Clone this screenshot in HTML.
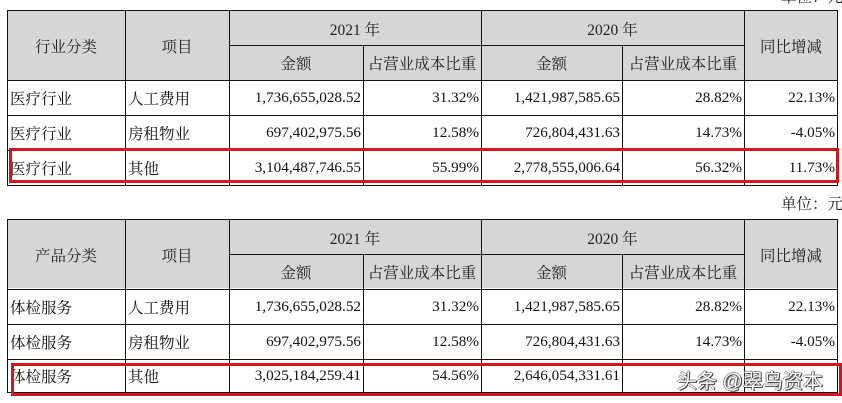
<!DOCTYPE html>
<html><head><meta charset="utf-8">
<style>
html,body{margin:0;padding:0;background:#fff;}
body{width:842px;height:403px;position:relative;overflow:hidden;font-family:"Liberation Serif","Noto Serif CJK SC",serif;color:#111;}
.t{position:absolute;left:0;width:842px;height:190px;}
.bg{position:absolute;background:#d6d6d6;}
.h{position:absolute;height:1px;background:#111;}
.v{position:absolute;width:1px;background:#111;}
.c{position:absolute;display:flex;align-items:center;white-space:nowrap;font-size:15.5px;box-sizing:border-box;}
.l{justify-content:flex-start;padding-left:3px;}
.r{justify-content:flex-end;padding-right:2px;font-size:15.2px;}
.m{justify-content:center;color:#222;}
.red{position:absolute;border:3px solid #d4141c;box-sizing:border-box;}
.unit{position:absolute;font-size:15.5px;white-space:nowrap;color:#222;}
.wm{position:absolute;left:677px;top:365px;font-family:"Liberation Sans","Noto Sans CJK SC",sans-serif;font-size:20px;color:#fff;letter-spacing:0px;text-shadow:1px 1px 0 #444,-1px 0 0 #888,0 -1px 0 #999,1px 0 0 #333;white-space:nowrap;}
</style></head><body>

<div class="unit" style="left:781px;top:-15px;">单位：元</div>

<!-- TABLE 1 -->
<div class="t" style="top:0;">
  <div class="bg" style="left:7px;top:11px;width:831px;height:69px;"></div>
  <div class="h" style="left:7px;top:10px;width:831px;"></div>
  <div class="h" style="left:229px;top:45px;width:515px;"></div>
  <div class="h" style="left:7px;top:80px;width:831px;"></div>
  <div class="h" style="left:7px;top:115px;width:831px;"></div>
  <div class="h" style="left:7px;top:150px;width:831px;"></div>
  <div class="h" style="left:7px;top:185px;width:831px;"></div>
  <div class="v" style="left:7px;top:10px;height:176px;"></div>
  <div class="v" style="left:125px;top:10px;height:176px;"></div>
  <div class="v" style="left:229px;top:10px;height:176px;"></div>
  <div class="v" style="left:363px;top:45px;height:141px;"></div>
  <div class="v" style="left:481px;top:10px;height:176px;"></div>
  <div class="v" style="left:622px;top:45px;height:141px;"></div>
  <div class="v" style="left:744px;top:10px;height:176px;"></div>
  <div class="v" style="left:837px;top:10px;height:176px;"></div>

  <div class="c m" style="left:7px;top:11px;width:118px;height:69px;">行业分类</div>
  <div class="c m" style="left:125px;top:11px;width:104px;height:69px;">项目</div>
  <div class="c m" style="left:229px;top:11px;width:252px;height:35px;">2021 年</div>
  <div class="c m" style="left:481px;top:11px;width:263px;height:35px;">2020 年</div>
  <div class="c m" style="left:744px;top:11px;width:94px;height:69px;">同比增减</div>
  <div class="c m" style="left:229px;top:46px;width:134px;height:34px;">金额</div>
  <div class="c m" style="left:363px;top:46px;width:118px;height:34px;">占营业成本比重</div>
  <div class="c m" style="left:481px;top:46px;width:141px;height:34px;">金额</div>
  <div class="c m" style="left:622px;top:46px;width:122px;height:34px;">占营业成本比重</div>

  <div class="c l" style="left:7px;top:80px;width:118px;height:35px;">医疗行业</div>
  <div class="c l" style="left:125px;top:80px;width:104px;height:35px;">人工费用</div>
  <div class="c r" style="left:229px;top:80px;width:134px;height:35px;">1,736,655,028.52</div>
  <div class="c r" style="left:363px;top:80px;width:118px;height:35px;">31.32%</div>
  <div class="c r" style="left:481px;top:80px;width:141px;height:35px;">1,421,987,585.65</div>
  <div class="c r" style="left:622px;top:80px;width:122px;height:35px;">28.82%</div>
  <div class="c r" style="left:744px;top:80px;width:93px;height:35px;">22.13%</div>

  <div class="c l" style="left:7px;top:115px;width:118px;height:35px;">医疗行业</div>
  <div class="c l" style="left:125px;top:115px;width:104px;height:35px;">房租物业</div>
  <div class="c r" style="left:229px;top:115px;width:134px;height:35px;">697,402,975.56</div>
  <div class="c r" style="left:363px;top:115px;width:118px;height:35px;">12.58%</div>
  <div class="c r" style="left:481px;top:115px;width:141px;height:35px;">726,804,431.63</div>
  <div class="c r" style="left:622px;top:115px;width:122px;height:35px;">14.73%</div>
  <div class="c r" style="left:744px;top:115px;width:93px;height:35px;">-4.05%</div>

  <div class="c l" style="left:7px;top:150px;width:118px;height:35px;">医疗行业</div>
  <div class="c l" style="left:125px;top:150px;width:104px;height:35px;">其他</div>
  <div class="c r" style="left:229px;top:150px;width:134px;height:35px;">3,104,487,746.55</div>
  <div class="c r" style="left:363px;top:150px;width:118px;height:35px;">55.99%</div>
  <div class="c r" style="left:481px;top:150px;width:141px;height:35px;">2,778,555,006.64</div>
  <div class="c r" style="left:622px;top:150px;width:122px;height:35px;">56.32%</div>
  <div class="c r" style="left:744px;top:150px;width:93px;height:35px;">11.73%</div>
</div>
<div class="red" style="left:9px;top:148px;width:830px;height:35px;"></div>

<div class="unit" style="left:781px;top:192px;">单位：元</div>

<!-- TABLE 2 -->
<div class="t" style="top:208px;">
  <div class="bg" style="left:7px;top:11px;width:831px;height:69px;"></div>
  <div class="h" style="left:7px;top:11px;width:831px;"></div>
  <div class="h" style="left:229px;top:46px;width:515px;"></div>
  <div class="h" style="left:7px;top:81px;width:831px;"></div>
  <div class="h" style="left:7px;top:116px;width:831px;"></div>
  <div class="h" style="left:7px;top:151px;width:831px;"></div>
  <div class="h" style="left:7px;top:184px;width:831px;"></div>
  <div class="v" style="left:7px;top:11px;height:174px;"></div>
  <div class="v" style="left:125px;top:11px;height:174px;"></div>
  <div class="v" style="left:229px;top:11px;height:174px;"></div>
  <div class="v" style="left:363px;top:46px;height:139px;"></div>
  <div class="v" style="left:481px;top:11px;height:174px;"></div>
  <div class="v" style="left:622px;top:46px;height:139px;"></div>
  <div class="v" style="left:744px;top:11px;height:174px;"></div>
  <div class="v" style="left:837px;top:11px;height:174px;"></div>

  <div class="c m" style="left:7px;top:12px;width:118px;height:69px;">产品分类</div>
  <div class="c m" style="left:125px;top:12px;width:104px;height:69px;">项目</div>
  <div class="c m" style="left:229px;top:12px;width:252px;height:35px;">2021 年</div>
  <div class="c m" style="left:481px;top:12px;width:263px;height:35px;">2020 年</div>
  <div class="c m" style="left:744px;top:12px;width:94px;height:69px;">同比增减</div>
  <div class="c m" style="left:229px;top:47px;width:134px;height:34px;">金额</div>
  <div class="c m" style="left:363px;top:47px;width:118px;height:34px;">占营业成本比重</div>
  <div class="c m" style="left:481px;top:47px;width:141px;height:34px;">金额</div>
  <div class="c m" style="left:622px;top:47px;width:122px;height:34px;">占营业成本比重</div>

  <div class="c l" style="left:7px;top:81px;width:118px;height:35px;">体检服务</div>
  <div class="c l" style="left:125px;top:81px;width:104px;height:35px;">人工费用</div>
  <div class="c r" style="left:229px;top:81px;width:134px;height:35px;">1,736,655,028.52</div>
  <div class="c r" style="left:363px;top:81px;width:118px;height:35px;">31.32%</div>
  <div class="c r" style="left:481px;top:81px;width:141px;height:35px;">1,421,987,585.65</div>
  <div class="c r" style="left:622px;top:81px;width:122px;height:35px;">28.82%</div>
  <div class="c r" style="left:744px;top:81px;width:93px;height:35px;">22.13%</div>

  <div class="c l" style="left:7px;top:116px;width:118px;height:35px;">体检服务</div>
  <div class="c l" style="left:125px;top:116px;width:104px;height:35px;">房租物业</div>
  <div class="c r" style="left:229px;top:116px;width:134px;height:35px;">697,402,975.56</div>
  <div class="c r" style="left:363px;top:116px;width:118px;height:35px;">12.58%</div>
  <div class="c r" style="left:481px;top:116px;width:141px;height:35px;">726,804,431.63</div>
  <div class="c r" style="left:622px;top:116px;width:122px;height:35px;">14.73%</div>
  <div class="c r" style="left:744px;top:116px;width:93px;height:35px;">-4.05%</div>

  <div class="c l" style="left:7px;top:151px;width:118px;height:33px;">体检服务</div>
  <div class="c l" style="left:125px;top:151px;width:104px;height:33px;">其他</div>
  <div class="c r" style="left:229px;top:151px;width:134px;height:33px;">3,025,184,259.41</div>
  <div class="c r" style="left:363px;top:151px;width:118px;height:33px;">54.56%</div>
  <div class="c r" style="left:481px;top:151px;width:141px;height:33px;">2,646,054,331.61</div>
</div>
<div class="red" style="left:11px;top:363px;width:831px;height:33px;"></div>

<div class="wm">头条 @翠鸟资本</div>
</body></html>
